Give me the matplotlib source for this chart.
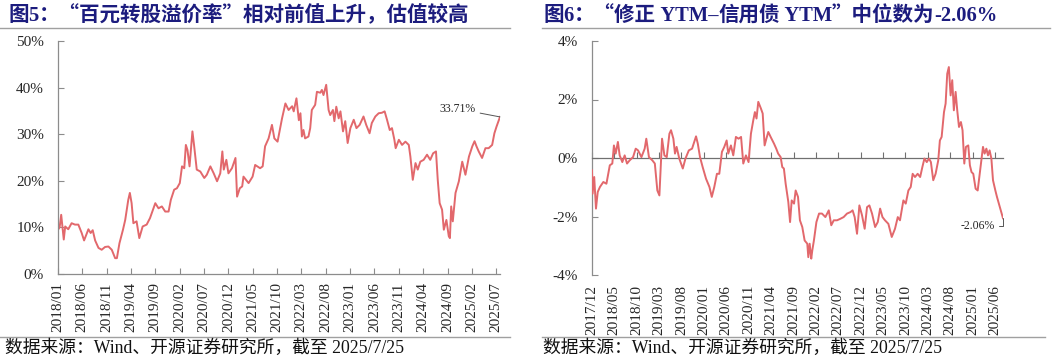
import pandas as pd
import matplotlib.pyplot as plt
from matplotlib.lines import Line2D

plt.rcParams['font.family'] = ['Liberation Serif', 'Noto Sans CJK SC']
plt.rcParams['axes.unicode_minus'] = False

# 图5：百元转股溢价率 (%)
premium_dates = [
    '2018-01-01', '2018-01-11', '2018-01-21', '2018-02-06', '2018-02-15', '2018-03-06', '2018-03-27', '2018-04-17',
    '2018-05-08', '2018-05-29', '2018-06-13', '2018-07-10', '2018-07-24', '2018-08-06', '2018-08-21', '2018-09-11',
    '2018-10-01', '2018-10-22', '2018-11-12', '2018-12-03', '2018-12-24', '2019-01-04', '2019-01-20', '2019-02-11',
    '2019-02-25', '2019-03-16', '2019-03-26', '2019-04-06', '2019-04-17', '2019-05-07', '2019-05-24', '2019-06-14',
    '2019-07-09', '2019-07-30', '2019-09-01', '2019-09-21', '2019-10-12', '2019-11-02', '2019-11-23', '2019-12-07',
    '2019-12-28', '2020-01-14', '2020-02-01', '2020-02-15', '2020-02-29', '2020-03-10', '2020-03-20', '2020-04-02',
    '2020-04-20', '2020-05-01', '2020-05-17', '2020-06-08', '2020-07-03', '2020-07-19', '2020-08-10', '2020-08-31',
    '2020-09-21', '2020-10-11', '2020-10-24', '2020-11-02', '2020-11-18', '2020-12-01', '2020-12-23', '2021-01-14',
    '2021-01-24', '2021-02-10', '2021-02-25', '2021-03-05', '2021-04-06', '2021-05-01', '2021-05-17', '2021-06-17',
    '2021-07-03', '2021-07-18', '2021-08-09', '2021-08-30', '2021-09-14', '2021-10-04', '2021-11-01', '2021-11-22',
    '2021-12-12', '2022-01-03', '2022-01-13', '2022-01-30', '2022-02-14', '2022-02-24', '2022-03-05', '2022-03-15',
    '2022-03-25', '2022-04-15', '2022-04-26', '2022-05-06', '2022-05-27', '2022-06-07', '2022-06-28', '2022-07-08',
    '2022-07-18', '2022-08-04', '2022-08-19', '2022-08-29', '2022-09-15', '2022-09-24', '2022-10-06', '2022-10-21',
    '2022-11-01', '2022-11-17', '2022-12-01', '2022-12-16', '2023-01-02', '2023-01-23', '2023-02-09', '2023-03-01',
    '2023-03-25', '2023-04-11', '2023-05-02', '2023-05-16', '2023-06-07', '2023-06-28', '2023-07-18', '2023-08-04',
    '2023-08-19', '2023-09-05', '2023-09-19', '2023-10-04', '2023-10-12', '2023-11-01', '2023-11-21', '2023-12-12',
    '2024-01-02', '2024-01-12', '2024-01-27', '2024-02-13', '2024-02-27', '2024-03-14', '2024-04-04', '2024-04-25',
    '2024-05-15', '2024-06-02', '2024-06-20', '2024-07-01', '2024-07-13', '2024-07-28', '2024-08-08', '2024-08-24',
    '2024-09-08', '2024-09-15', '2024-09-23', '2024-10-03', '2024-10-20', '2024-11-10', '2024-12-01', '2024-12-21',
    '2025-01-12', '2025-02-02', '2025-02-16', '2025-02-28', '2025-03-14', '2025-04-04', '2025-04-25', '2025-05-15',
    '2025-06-06', '2025-06-20', '2025-07-03', '2025-07-25',
]
premium = [
    9.5, 10.0, 12.7, 7.4, 10.2, 9.6, 10.9, 10.6,
    10.6, 8.8, 7.2, 9.6, 8.8, 9.4, 7.2, 5.6,
    5.2, 5.8, 5.9, 5.2, 3.4, 3.4, 6.6, 9.5,
    11.6, 15.9, 17.4, 15.2, 10.9, 11.3, 7.7, 10.2,
    10.6, 12.0, 15.2, 14.1, 14.5, 13.4, 13.4, 15.9,
    18.1, 18.4, 19.5, 23.1, 22.7, 27.7, 26.6, 23.1,
    30.6, 27.4, 22.4, 22.0, 20.6, 21.3, 23.1, 21.6,
    19.9, 21.6, 26.3, 22.4, 24.5, 21.6, 22.7, 24.9,
    16.6, 18.4, 18.8, 20.9, 19.5, 20.9, 23.4, 22.7,
    23.1, 27.4, 29.1, 32.0, 29.1, 28.4, 33.4, 36.6,
    35.2, 36.0, 34.9, 37.7, 33.0, 34.5, 29.5, 30.9,
    29.1, 29.5, 31.3, 35.2, 36.3, 39.1, 38.9, 39.5,
    38.4, 40.6, 35.2, 34.1, 35.2, 32.8, 35.9, 33.4,
    34.9, 30.6, 32.8, 28.1, 31.3, 33.1, 31.3, 32.0,
    33.8, 32.0, 30.2, 32.4, 33.8, 34.5, 34.6, 34.9,
    33.1, 30.9, 31.3, 28.8, 27.0, 28.8, 27.7, 28.4,
    27.7, 25.2, 20.2, 23.8, 22.4, 24.1, 24.5, 25.6,
    24.5, 25.9, 26.3, 20.2, 15.2, 13.8, 9.5, 11.6,
    8.1, 7.7, 14.5, 11.3, 17.4, 19.9, 24.1, 21.3,
    25.2, 27.4, 28.5, 27.4, 26.3, 24.9, 27.0, 27.0,
    27.7, 30.2, 31.6, 33.71,
]
premium_ticks = ['2018/01', '2018/06', '2018/11', '2019/04', '2019/09', '2020/02', '2020/07', '2020/12',
                 '2021/05', '2021/10', '2022/03', '2022/08', '2023/01', '2023/06', '2023/11', '2024/04',
                 '2024/09', '2025/02', '2025/07']

# 图6：修正YTM-信用债YTM 中位数 (%)
spread_dates = [
    '2017-12-01', '2017-12-05', '2017-12-16', '2017-12-28', '2018-01-09', '2018-01-24', '2018-02-16', '2018-03-09',
    '2018-04-01', '2018-04-18', '2018-04-29', '2018-05-11', '2018-05-26', '2018-06-07', '2018-06-25', '2018-07-11',
    '2018-07-27', '2018-08-14', '2018-09-06', '2018-09-24', '2018-10-10', '2018-11-02', '2018-11-24', '2018-12-05',
    '2018-12-23', '2019-01-15', '2019-02-01', '2019-02-18', '2019-03-04', '2019-03-22', '2019-04-07', '2019-04-23',
    '2019-05-11', '2019-05-22', '2019-06-07', '2019-06-18', '2019-06-29', '2019-07-17', '2019-08-10', '2019-08-28',
    '2019-09-20', '2019-10-12', '2019-11-08', '2019-11-20', '2019-12-05', '2019-12-23', '2020-01-15', '2020-02-07',
    '2020-02-23', '2020-03-11', '2020-03-29', '2020-04-14', '2020-05-02', '2020-05-18', '2020-06-03', '2020-06-14',
    '2020-07-02', '2020-07-18', '2020-08-05', '2020-08-23', '2020-09-09', '2020-09-24', '2020-10-12', '2020-10-30',
    '2020-11-15', '2020-12-01', '2020-12-12', '2020-12-23', '2021-01-04', '2021-01-22', '2021-02-03', '2021-02-16',
    '2021-02-28', '2021-03-13', '2021-03-29', '2021-04-21', '2021-05-06', '2021-05-19', '2021-06-05', '2021-06-16',
    '2021-06-27', '2021-07-09', '2021-07-27', '2021-08-08', '2021-08-19', '2021-09-04', '2021-09-15', '2021-10-01',
    '2021-10-14', '2021-10-30', '2021-11-15', '2021-12-03', '2021-12-10', '2021-12-19', '2021-12-30', '2022-01-06',
    '2022-01-17', '2022-02-03', '2022-02-21', '2022-03-13', '2022-04-05', '2022-04-28', '2022-05-15', '2022-06-01',
    '2022-06-23', '2022-07-15', '2022-08-07', '2022-08-30', '2022-09-22', '2022-10-07', '2022-10-21', '2022-11-06',
    '2022-11-22', '2022-12-10', '2022-12-28', '2023-01-13', '2023-01-29', '2023-02-16', '2023-03-09', '2023-03-27',
    '2023-04-12', '2023-04-28', '2023-05-15', '2023-06-07', '2023-06-30', '2023-07-22', '2023-08-10', '2023-08-25',
    '2023-09-17', '2023-10-03', '2023-10-21', '2023-11-06', '2023-11-19', '2023-12-05', '2023-12-23', '2024-01-09',
    '2024-01-24', '2024-02-07', '2024-02-23', '2024-03-09', '2024-03-22', '2024-04-07', '2024-04-23', '2024-05-11',
    '2024-05-22', '2024-06-03', '2024-06-19', '2024-06-30', '2024-07-11', '2024-07-22', '2024-08-03', '2024-08-14',
    '2024-08-25', '2024-09-06', '2024-09-17', '2024-09-29', '2024-10-12', '2024-10-23', '2024-11-04', '2024-11-15',
    '2024-12-01', '2024-12-12', '2024-12-23', '2025-01-04', '2025-01-20', '2025-02-03', '2025-02-14', '2025-02-25',
    '2025-03-11', '2025-03-22', '2025-04-03', '2025-04-14', '2025-04-25', '2025-05-07', '2025-05-18', '2025-06-03',
    '2025-06-14', '2025-07-25',
]
spread = [
    -0.42, -1.22, -0.65, -1.73, -1.16, -0.99, -0.82, -0.88,
    -0.25, -0.19, 0.43, 0.15, 0.55, 0.09, -0.14, 0.09,
    -0.19, -0.08, 0.03, 0.32, 0.26, 0.03, 0.32, 0.66,
    0.03, -0.08, -0.19, -1.11, -1.28, 0.66, 0.09, 0.03,
    0.83, 0.95, 0.66, 0.15, 0.38, -0.02, -0.36, -0.02,
    0.26, 0.32, 0.74, 0.49, 0.03, -0.31, -0.71, -0.99,
    -1.33, -0.99, -0.54, -0.54, 0.21, 0.38, 0.60, 0.15,
    0.43, 0.09, 0.72, 0.66, 0.72, -0.19, 0.09, -0.14,
    0.83, 1.29, 1.57, 1.35, 1.92, 1.69, 1.52, 0.43,
    0.66, 0.89, 0.72, 0.49, 0.32, 0.15, 0.03, -0.31,
    -0.36, -0.88, -1.50, -2.19, -1.45, -1.56, -1.11, -1.33,
    -2.13, -2.36, -2.82, -2.93, -3.39, -2.93, -3.44, -3.16,
    -2.82, -2.19, -1.90, -1.90, -2.02, -1.79, -2.30, -2.13,
    -2.13, -2.08, -2.02, -1.90, -1.85, -1.79, -2.02, -2.59,
    -1.62, -1.96, -2.42, -1.68, -1.62, -1.90, -2.36, -2.19,
    -1.73, -2.02, -2.13, -2.25, -2.70, -2.42, -2.02, -2.13,
    -1.45, -1.56, -1.11, -0.99, -0.54, -0.65, -0.54, -0.65,
    -0.31, -0.02, -0.14, -0.02, -0.14, -0.76, -0.54, -0.08,
    0.60, 0.72, 1.57, 1.86, 2.88, 3.11, 2.14, 2.66,
    1.63, 2.26, 1.63, 1.06, 1.23, 0.95, -0.19, 0.38,
    0.43, -0.25, -0.48, -0.54, -1.05, -1.11, -0.65, -0.19,
    0.38, 0.15, 0.32, 0.09, 0.26, -0.02, -0.76, -1.11,
    -1.33, -2.06,
]
spread_ticks = ['2017/12', '2018/05', '2018/10', '2019/03', '2019/08', '2020/01', '2020/06', '2020/11',
                '2021/04', '2021/09', '2022/02', '2022/07', '2022/12', '2023/05', '2023/10', '2024/03',
                '2024/08', '2025/01', '2025/06']

CJK = 'Noto Sans CJK SC'
SERIF = 'Liberation Serif'
# titles split into runs so Latin parts use the serif face and CJK punctuation stays full width
title_left = [('图', CJK), ('5', SERIF), ('：“百元转股溢价率”相对前值上升，估值较高', CJK)]
title_right = [('图', CJK), ('6', SERIF), ('：“修正', CJK), (' YTM–', SERIF), ('信用债', CJK),
               (' YTM', SERIF), ('”中位数为', CJK), ('-2.06%', SERIF)]
source = '数据来源：Wind、开源证券研究所，截至 2025/7/25'

line_color = '#E2686C'
title_color = '#1C1C7E'
axis_color = '#8C8C8C'
text_color = '#262626'

W, H = 1057, 363
fig = plt.figure(figsize=(W / 100, H / 100), dpi=100)
renderer = fig.canvas.get_renderer()


def box(x0, y0, x1, y1):
    return [x0 / W, 1 - y1 / H, (x1 - x0) / W, (y1 - y0) / H]


def hline(x0, x1, y, color='#A0A0A0', lw=1.0):
    fig.add_artist(Line2D([x0 / W, x1 / W], [1 - y / H, 1 - y / H],
                          transform=fig.transFigure, color=color, lw=lw))


def title_runs(x, y, runs, size=14.8):
    for txt, fam in runs:
        t = fig.text(x / W, 1 - y / H, txt, fontsize=size, fontweight='bold', color=title_color,
                     family=[fam, CJK], ha='left', va='baseline')
        bb = t.get_window_extent(renderer)
        x = bb.x1


# ---- left panel
ax1 = fig.add_axes(box(58, 41, 500, 274))
x1 = pd.to_datetime(premium_dates)
ax1.plot(x1, premium, color=line_color, lw=1.4)
ax1.set_xlim(pd.Timestamp('2018-01-01'), pd.Timestamp('2025-07-25'))
ax1.set_ylim(0, 50)
ax1.set_yticks([0, 10, 20, 30, 40, 50])
ax1.set_yticklabels([f'{v}%' for v in [0, 10, 20, 30, 40, 50]])
ax1.set_xticks(pd.to_datetime(premium_ticks, format='%Y/%m'))
ax1.set_xticklabels(premium_ticks, rotation=90)
for s in ['top', 'right']:
    ax1.spines[s].set_visible(False)
for s in ['left', 'bottom']:
    ax1.spines[s].set_color(axis_color)
    ax1.spines[s].set_linewidth(0.9)
ax1.tick_params(axis='both', direction='in', length=4, color=axis_color, labelsize=11, labelcolor=text_color)
ax1.tick_params(axis='y', pad=10)
ax1.tick_params(axis='x', pad=6)
ax1.annotate('33.71%', xy=(x1[-1], premium[-1]), xytext=(-24, 8), textcoords='offset pixels',
             ha='right', va='center', fontsize=8.5, color=text_color,
             arrowprops=dict(arrowstyle='-', color='#555555', lw=0.7, shrinkA=1, shrinkB=0))

# ---- right panel
ax2 = fig.add_axes(box(592, 41, 1003, 275))
x2 = pd.to_datetime(spread_dates)
ax2.plot(x2, spread, color=line_color, lw=1.4, zorder=3)
ax2.set_xlim(pd.Timestamp('2017-12-01'), pd.Timestamp('2025-07-25'))
ax2.set_ylim(-4, 4)
ax2.set_yticks([-4, -2, 0, 2, 4])
ax2.set_yticklabels([f'{v}%' for v in [-4, -2, 0, 2, 4]])
for s in ['top', 'right']:
    ax2.spines[s].set_visible(False)
ax2.spines['left'].set_color(axis_color)
ax2.spines['left'].set_linewidth(0.9)
ax2.spines['bottom'].set_position(('data', 0))
ax2.spines['bottom'].set_color('#707070')
ax2.spines['bottom'].set_linewidth(0.9)
tick_pos = pd.to_datetime(spread_ticks, format='%Y/%m')
ax2.set_xticks(tick_pos)
ax2.tick_params(axis='x', direction='in', length=4, color='#707070', labelbottom=False)
ax2.tick_params(axis='y', direction='in', length=4, color=axis_color, labelsize=11,
                labelcolor=text_color, pad=10)
sec = ax2.secondary_xaxis('bottom')
sec.spines['bottom'].set_visible(False)
sec.set_xticks(tick_pos)
sec.set_xticklabels(spread_ticks, rotation=90)
sec.tick_params(length=0, labelsize=11, labelcolor=text_color, pad=7)
ax2.annotate('-2.06%', xy=(x2[-1], spread[-1]), xytext=(-8, -8), textcoords='offset pixels',
             ha='right', va='center', fontsize=8.5, color=text_color,
             arrowprops=dict(arrowstyle='-', color='#555555', lw=0.7, shrinkA=1, shrinkB=0,
                             connectionstyle='angle,angleA=0,angleB=90,rad=0'))

# ---- titles, rules and sources
title_runs(8, 21, title_left)
title_runs(543, 21, title_right)
hline(0, 510, 28)
hline(542, 1050, 28)
hline(0, 510, 337)
hline(542, 1045, 337)
fig.text(5 / W, 1 - 348 / H, source, fontsize=12.8, color='#111111', ha='left', va='center')
fig.text(543 / W, 1 - 348 / H, source, fontsize=12.8, color='#111111', ha='left', va='center')

fig.savefig('out.png', dpi=100)
